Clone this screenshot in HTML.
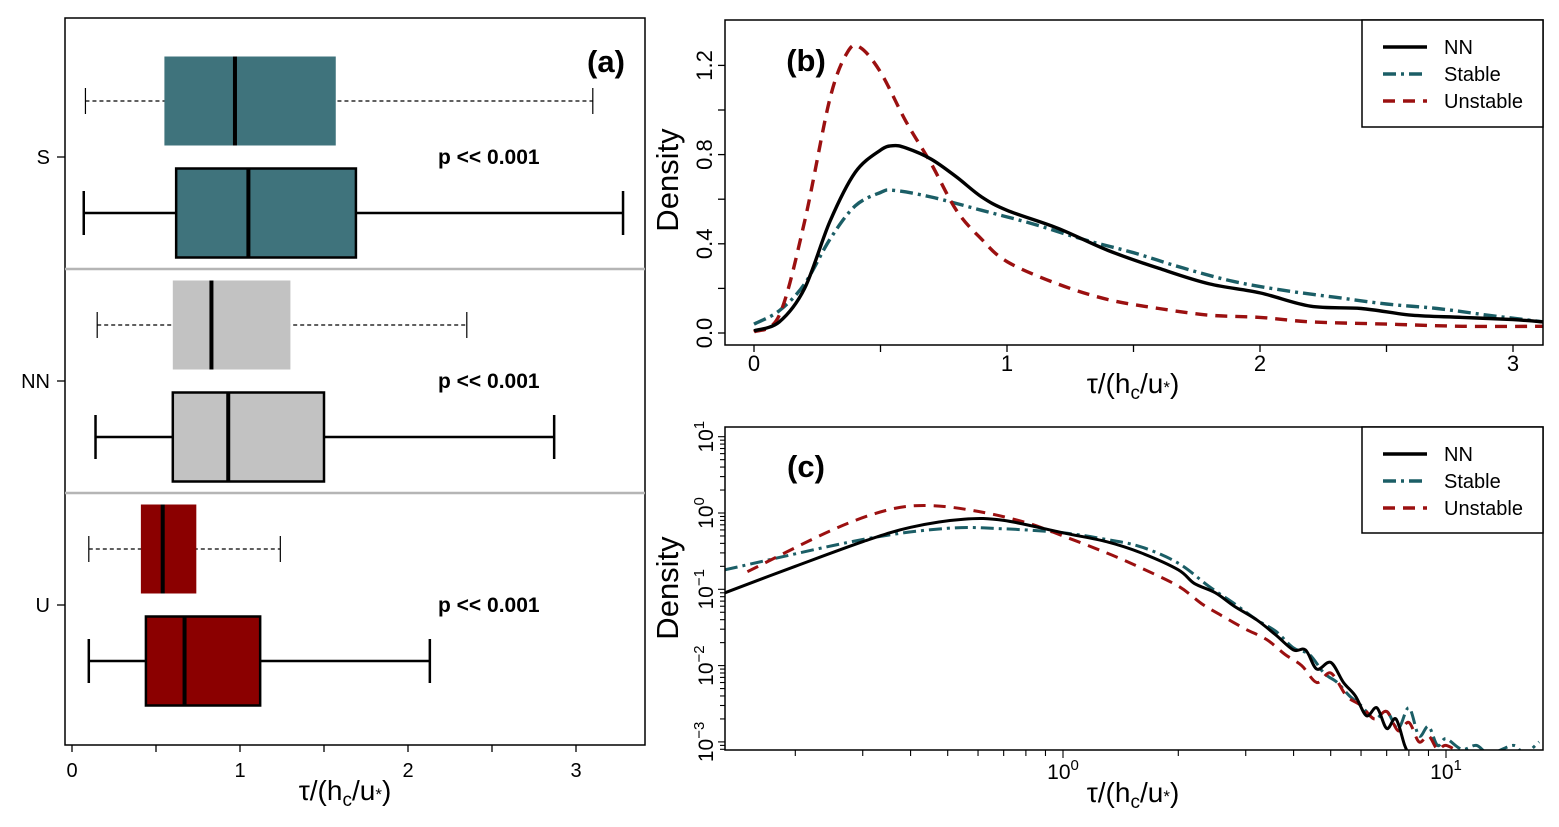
<!DOCTYPE html>
<html><head><meta charset="utf-8"><style>
body{margin:0;background:#fff}
svg{display:block;font-family:"Liberation Sans",Arial,sans-serif}
</style></head><body>
<svg id="svg" width="1559" height="827" viewBox="0 0 1559 827"></svg>
<script>
// ---------- Panel (a) data ----------
const groups = ["S","NN","U"];
const groupColors = ["#3f737c","#c2c2c2","#8b0000"];
const dashedStats = [[0.08,0.55,0.97,1.57,3.1],[0.15,0.60,0.83,1.30,2.35],[0.10,0.41,0.54,0.74,1.24]];
const solidStats  = [[0.07,0.62,1.05,1.69,3.28],[0.14,0.60,0.93,1.50,2.87],[0.10,0.44,0.67,1.12,2.13]];
const aTicks = [0,1,2,3];
// ---------- Panel (b) data ----------
const bNNx = [0,0.1,0.2,0.3,0.4,0.5,0.55,0.6,0.7,0.8,0.9,1.0,1.2,1.4,1.6,1.8,2.0,2.2,2.4,2.6,2.8,3.0,3.12];
const bNNy = [0.01,0.05,0.2,0.5,0.72,0.82,0.84,0.83,0.78,0.70,0.61,0.55,0.47,0.37,0.29,0.22,0.18,0.12,0.11,0.08,0.07,0.06,0.05];
const bSx = [0,0.1,0.2,0.3,0.4,0.5,0.55,0.7,0.9,1.1,1.3,1.5,1.7,1.9,2.1,2.3,2.5,2.7,2.9,3.12];
const bSy = [0.04,0.1,0.22,0.42,0.57,0.63,0.64,0.61,0.55,0.49,0.42,0.36,0.29,0.23,0.19,0.16,0.13,0.11,0.08,0.05];
const bUx = [0,0.1,0.2,0.3,0.37,0.42,0.5,0.6,0.7,0.8,0.9,1.0,1.2,1.4,1.6,1.8,2.0,2.2,2.5,2.8,3.12];
const bUy = [0.005,0.08,0.5,1.05,1.26,1.28,1.17,0.95,0.76,0.55,0.42,0.32,0.22,0.15,0.11,0.08,0.07,0.05,0.04,0.03,0.03];
const bXTicks = [0,1,2,3];
const bYTicks = [0,0.4,0.8,1.2];
// ---------- Panel (c) data ----------
const cNNx = [0.131,0.2,0.3,0.4,0.55,0.7,1.0,1.3,1.6,2.0,2.2,2.5,2.8,3.2,3.6,4.0,4.3,4.6,5.0,5.4,5.8,6.2,6.6,7.0,7.4,7.8,8.1];
const cNNy = [0.09,0.2,0.42,0.65,0.83,0.8,0.55,0.42,0.3,0.18,0.12,0.09,0.06,0.04,0.025,0.016,0.016,0.009,0.011,0.006,0.004,0.0022,0.0028,0.0015,0.002,0.0009,0.0006];
const cSx = [0.131,0.3,0.5,0.7,1.0,1.3,1.6,2.0,2.4,2.8,3.2,3.6,4.0,4.4,4.8,5.2,5.6,6.0,6.5,7.0,7.5,8.0,8.5,9.0,9.5,10,11,12,13,15,16,17.5];
const cSy = [0.18,0.45,0.63,0.62,0.55,0.45,0.36,0.22,0.11,0.065,0.04,0.028,0.017,0.014,0.008,0.006,0.004,0.003,0.002,0.0025,0.0015,0.0028,0.0012,0.0016,0.0009,0.0011,0.0008,0.0009,0.0007,0.0009,0.0007,0.001];
const cUx = [0.15,0.25,0.35,0.45,0.6,0.8,1.0,1.3,1.6,2.0,2.3,2.6,3.0,3.4,3.8,4.2,4.6,5.0,5.5,6.0,6.5,7.0,7.5,8.0,8.5,9.0,9.5,10,11];
const cUy = [0.17,0.6,1.1,1.25,1.05,0.75,0.5,0.3,0.19,0.11,0.065,0.045,0.03,0.022,0.014,0.01,0.006,0.008,0.004,0.003,0.002,0.0025,0.0014,0.0018,0.001,0.0012,0.0008,0.0009,0.0007];
const cYTickExp = [-3,-2,-1,0,1];
const cXTickExp = [0,1];

const svg = document.getElementById('svg');
const NS = "http://www.w3.org/2000/svg";
function mk(tag, attrs, parent){const e=document.createElementNS(NS,tag);for(const k in attrs)e.setAttribute(k,attrs[k]);(parent||svg).appendChild(e);return e;}
function txt(s, attrs, parent){const e=mk('text',attrs,parent);e.textContent=s;return e;}

// ===== Panel (a) =====
const A = {l:65,r:645,t:18,b:745};
const ax = v => 72 + v*168;
const gA = mk('g',{});


mk('rect',{x:A.l,y:A.t,width:A.r-A.l,height:A.b-A.t,fill:'none',stroke:'#000','stroke-width':1.5},gA);
[269,493].forEach(y=>{const l=mk('line',{x1:A.l,x2:A.r,y1:y,y2:y,stroke:'#b5b5b5','stroke-width':2.5},gA);
});
const centers=[157,381,605];
groups.forEach((g,i)=>{
  const c=centers[i];
  mk('line',{x1:57,x2:65,y1:c,y2:c,stroke:'#000','stroke-width':1.3},gA);
  const t=txt(g,{x:50,y:c+7,'text-anchor':'end','font-size':20},gA);
  
  const p=txt('p << 0.001',{x:438,y:c+7,'font-size':21,'font-weight':'bold'},gA);
  
  const d=dashedStats[i], yd=c-56, h=89;
  const gd=mk('g',{},gA);
  
  mk('line',{x1:ax(d[0]),x2:ax(d[4]),y1:yd,y2:yd,stroke:'#000','stroke-width':1.2,'stroke-dasharray':'4 3'},gd);
  mk('line',{x1:ax(d[0]),x2:ax(d[0]),y1:yd-13,y2:yd+13,stroke:'#000','stroke-width':1.2},gd);
  mk('line',{x1:ax(d[4]),x2:ax(d[4]),y1:yd-13,y2:yd+13,stroke:'#000','stroke-width':1.2},gd);
  mk('rect',{x:ax(d[1]),y:yd-h/2,width:ax(d[3])-ax(d[1]),height:h,fill:groupColors[i]},gd);
  mk('line',{x1:ax(d[2]),x2:ax(d[2]),y1:yd-h/2,y2:yd+h/2,stroke:'#000','stroke-width':4},gd);
  const s=solidStats[i], ys=c+56;
  const gs=mk('g',{},gA);
  
  mk('line',{x1:ax(s[0]),x2:ax(s[4]),y1:ys,y2:ys,stroke:'#000','stroke-width':2.5},gs);
  mk('line',{x1:ax(s[0]),x2:ax(s[0]),y1:ys-22,y2:ys+22,stroke:'#000','stroke-width':2.5},gs);
  mk('line',{x1:ax(s[4]),x2:ax(s[4]),y1:ys-22,y2:ys+22,stroke:'#000','stroke-width':2.5},gs);
  mk('rect',{x:ax(s[1]),y:ys-h/2,width:ax(s[3])-ax(s[1]),height:h,fill:groupColors[i],stroke:'#000','stroke-width':2.5},gs);
  mk('line',{x1:ax(s[2]),x2:ax(s[2]),y1:ys-h/2,y2:ys+h/2,stroke:'#000','stroke-width':4},gs);
});
aTicks.forEach(v=>{
  mk('line',{x1:ax(v),x2:ax(v),y1:A.b,y2:A.b+7,stroke:'#000','stroke-width':1.3},gA);
  if(v<3) mk('line',{x1:ax(v+0.5),x2:ax(v+0.5),y1:A.b,y2:A.b+7,stroke:'#000','stroke-width':1.3},gA);
  const t=txt(String(v),{x:ax(v),y:777,'text-anchor':'middle','font-size':20},gA);
  
});
const at=txt('(a)',{x:606,y:72,'text-anchor':'middle','font-size':31,'font-weight':'bold'},gA);

function xlabel(x,y,parent,name){
  const t=mk('text',{x:x,y:y,'text-anchor':'middle','font-size':28},parent);
  t.innerHTML='τ/(h<tspan font-size="19" dy="6">c</tspan><tspan dy="-6">/u</tspan><tspan font-size="17">*</tspan>)';
  
}
xlabel(345,800,gA,'a-x-axis-title');

// smooth path (Catmull-Rom)
function path(xs,ys,fx,fy,attrs,parent,name){
  const P=xs.map((x,i)=>[fx(x),fy(ys[i])]);
  let d='M'+P[0][0].toFixed(1)+','+P[0][1].toFixed(1);
  for(let i=0;i<P.length-1;i++){
    const p0=P[i-1]||P[i],p1=P[i],p2=P[i+1],p3=P[i+2]||P[i+1];
    const c1=[p1[0]+(p2[0]-p0[0])/6,p1[1]+(p2[1]-p0[1])/6],c2=[p2[0]-(p3[0]-p1[0])/6,p2[1]-(p3[1]-p1[1])/6];
    d+='C'+c1.map(v=>v.toFixed(1))+' '+c2.map(v=>v.toFixed(1))+' '+p2.map(v=>v.toFixed(1));
  }
  const p=mk('path',Object.assign({d:d,fill:'none','stroke-linejoin':'round'},attrs),parent);
  return p;
}

// ===== Panel (b) =====
const B={l:725,r:1543,t:20,b:345};
const bx=v=>754+v*253, by=v=>333-v*223;
const gB=mk('g',{});

const cpb=mk('clipPath',{id:'cb'},gB);mk('rect',{x:B.l,y:B.t,width:B.r-B.l,height:B.b-B.t},cpb);
const stN={stroke:'#000','stroke-width':3.4};
const stS={stroke:'#1b5e66','stroke-width':3.4,'stroke-dasharray':'13 5 3 5'};
const stU={stroke:'#9b1010','stroke-width':3.4,'stroke-dasharray':'12 8'};
const gbl=mk('g',{'clip-path':'url(#cb)'},gB);
path(bSx,bSy,bx,by,stS,gbl,'stable-density-line');
path(bUx,bUy,bx,by,stU,gbl,'unstable-density-line');
path(bNNx,bNNy,bx,by,stN,gbl,'nn-density-line');
mk('rect',{x:B.l,y:B.t,width:B.r-B.l,height:B.b-B.t,fill:'none',stroke:'#000','stroke-width':1.5},gB);
for(let v=0;v<=1.2001;v+=0.2) mk('line',{x1:B.l-7,x2:B.l,y1:by(v),y2:by(v),stroke:'#000','stroke-width':1.3},gB);
bYTicks.forEach(v=>{const t=txt(v.toFixed(1),{x:0,y:0,'text-anchor':'middle','font-size':22,transform:`translate(${B.l-13},${by(v)}) rotate(-90)`},gB);
 });
for(let v=0;v<=3.001;v+=0.5) mk('line',{x1:bx(v),x2:bx(v),y1:B.b,y2:B.b+7,stroke:'#000','stroke-width':1.3},gB);
bXTicks.forEach(v=>{const t=txt(String(v),{x:bx(v),y:371,'text-anchor':'middle','font-size':22},gB);
 });
const byt=txt('Density',{x:0,y:0,'text-anchor':'middle','font-size':31,transform:'translate(678,180) rotate(-90)'},gB);

xlabel(1133,393,gB,'b-x-axis-title');
const bt=txt('(b)',{x:806,y:71,'text-anchor':'middle','font-size':31,'font-weight':'bold'},gB);

function legend(x0,y0,y1,parent,name){
  const g=mk('g',{},parent);
  mk('rect',{x:x0,y:y0,width:1543-x0,height:y1-y0,fill:'#fff',stroke:'#000','stroke-width':1.5},g);
  [['NN',stN],['Stable',stS],['Unstable',stU]].forEach((e,i)=>{
    const y=y0+27+i*27;
    const ge=mk('g',{},g);
    mk('line',Object.assign({x1:1383,x2:1427,y1:y,y2:y},e[1]),ge);
    txt(e[0],{x:1444,y:y+7,'font-size':20},ge);
  });
}
legend(1362,20,127,gB,'b-legend');

// ===== Panel (c) =====
const C={l:725,r:1543,t:427,b:750};
const cx=v=>1063+Math.log10(v)*383, cy=v=>513-Math.log10(v)*76.3;
const gC=mk('g',{});

const cp=mk('clipPath',{id:'cc'},gC);mk('rect',{x:C.l,y:C.t,width:C.r-C.l,height:C.b-C.t},cp);
const gcl=mk('g',{'clip-path':'url(#cc)'},gC);
path(cSx,cSy,cx,cy,Object.assign({},stS,{'stroke-width':3}),gcl,'stable-density-line-log');
path(cUx,cUy,cx,cy,Object.assign({},stU,{'stroke-width':3}),gcl,'unstable-density-line-log');
path(cNNx,cNNy,cx,cy,Object.assign({},stN,{'stroke-width':3}),gcl,'nn-density-line-log');
mk('rect',{x:C.l,y:C.t,width:C.r-C.l,height:C.b-C.t,fill:'none',stroke:'#000','stroke-width':1.5},gC);
for(let e=-4;e<=1;e++)for(let m=1;m<=9;m++){const v=m*Math.pow(10,e),y=cy(v);
  if(y>=C.t&&y<=C.b) mk('line',{x1:C.l-(m==1?7:5),x2:C.l,y1:y,y2:y,stroke:'#000','stroke-width':1.1},gC);}
cYTickExp.forEach(e=>{const t=mk('text',{x:0,y:0,'text-anchor':'middle','font-size':21,transform:`translate(${C.l-12},${cy(Math.pow(10,e))}) rotate(-90)`},gC);
 t.innerHTML='10<tspan font-size="15" dy="-9">'+(e<0?'−'+(-e):e)+'</tspan>';
 });
for(let e=-1;e<=1;e++)for(let m=1;m<=9;m++){const v=m*Math.pow(10,e),x=cx(v);
  if(x>=C.l&&x<=C.r) mk('line',{x1:x,x2:x,y1:C.b,y2:C.b+(m==1?8:6),stroke:'#000','stroke-width':1.1},gC);}
cXTickExp.forEach(e=>{const t=mk('text',{x:cx(Math.pow(10,e)),y:779,'text-anchor':'middle','font-size':21},gC);
 t.innerHTML='10<tspan font-size="15" dy="-9">'+e+'</tspan>';
 });
const cyt=txt('Density',{x:0,y:0,'text-anchor':'middle','font-size':31,transform:'translate(678,588) rotate(-90)'},gC);

xlabel(1133,802,gC,'c-x-axis-title');
const ct=txt('(c)',{x:806,y:477,'text-anchor':'middle','font-size':31,'font-weight':'bold'},gC);

legend(1362,427,533,gC,'c-legend');
</script>
</body></html>
